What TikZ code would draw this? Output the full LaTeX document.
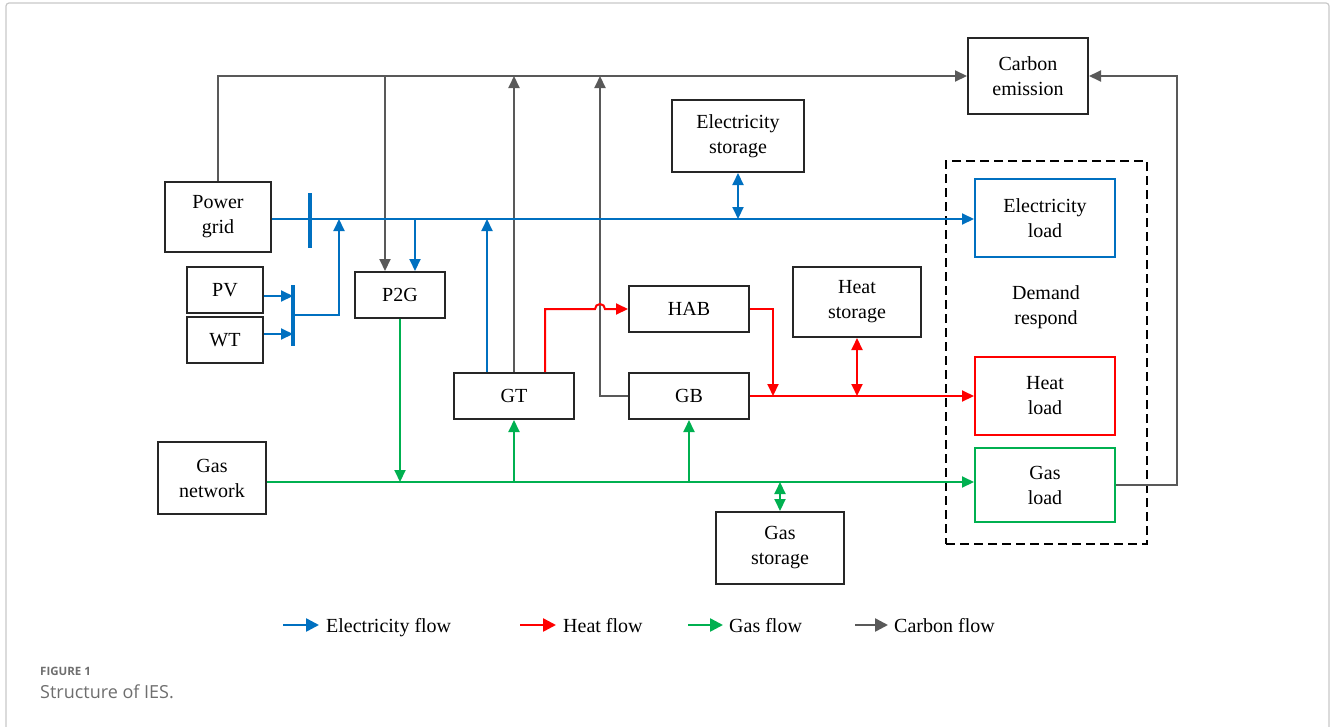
\documentclass[tikz,border=0pt]{standalone}
\usepackage{fontspec}
\setmainfont{Liberation Serif}
\newfontfamily\capfont{Open Sans}
\usetikzlibrary{arrows.meta}
\definecolor{eblue}{RGB}{0,112,192}
\definecolor{hred}{RGB}{255,0,0}
\definecolor{ggreen}{RGB}{0,176,80}
\definecolor{cgray}{RGB}{89,89,89}
\definecolor{boxline}{RGB}{38,38,38}
\definecolor{framegray}{RGB}{200,200,200}
\definecolor{capgray}{RGB}{110,110,110}
\tikzset{
  blk/.style={draw=boxline, line width=2pt, align=center, inner sep=0pt, text=black,
    font=\fontsize{20}{25}\selectfont},
  lbl/.style={align=center, inner sep=0pt, text=black, font=\fontsize{20}{25}\selectfont},
  tip/.tip={Triangle[length=12pt,width=11pt]},
  legtip/.tip={Triangle[length=13pt,width=13pt]},
  flowline/.style={line width=2pt},
  eflow/.style={flowline, draw=eblue, -tip},
  hflow/.style={flowline, draw=hred, -tip},
  gflow/.style={flowline, draw=ggreen, -tip},
  cflow/.style={flowline, draw=cgray, -tip},
  eboth/.style={flowline, draw=eblue, tip-tip},
  hboth/.style={flowline, draw=hred, tip-tip},
  gboth/.style={flowline, draw=ggreen, tip-tip},
  legarrow/.style={line width=2.5pt, -legtip},
  busbar/.style={draw=eblue, line width=4pt},
  legtext/.style={anchor=base west, inner sep=0pt, text=black, font=\fontsize{20}{24}\selectfont},
}
\begin{document}
\begin{tikzpicture}[x=1pt,y=-1pt]
\useasboundingbox (0,0) rectangle (1335,726);
% outer frame
\draw[framegray, line width=1.2pt, rounded corners=3pt] (6,740) -- (6,3) -- (1329,3) -- (1329,740);

% boxes
\node[blk, minimum width=120pt, minimum height=76pt] (carbon) at (1028,76) {Carbon\\emission};
\node[blk, minimum width=132pt, minimum height=72pt] (estor) at (738,136) {Electricity\\storage};
\node[blk, minimum width=106pt, minimum height=70pt] (grid) at (218,217) {Power\\grid};
\node[blk, minimum width=76pt, minimum height=46pt] (pv) at (225,290) {PV};
\node[blk, minimum width=76pt, minimum height=46pt] (wt) at (225,340) {WT};
\node[blk, minimum width=90pt, minimum height=46pt] (p2g) at (400,295) {P2G};
\node[blk, minimum width=120pt, minimum height=46pt] (hab) at (689,309) {HAB};
\node[blk, minimum width=128pt, minimum height=70pt] (hstor) at (857,302) {Heat\\storage};
\node[blk, minimum width=120pt, minimum height=46pt] (gt) at (514,396) {GT};
\node[blk, minimum width=120pt, minimum height=46pt] (gb) at (689,396) {GB};
\node[blk, minimum width=108pt, minimum height=72pt] (gasnet) at (212,478) {Gas\\network};
\node[blk, minimum width=128pt, minimum height=72pt] (gstor) at (780,548) {Gas\\storage};
\node[draw=black, line width=1.5pt, dash pattern=on 9pt off 5pt, minimum width=201pt, minimum height=383pt, inner sep=0pt] (dr) at (1046.5,352.5) {};
\node[blk, draw=eblue, minimum width=140pt, minimum height=78pt] (eload) at (1045,218) {Electricity\\load};
\node[lbl] (drt) at (1046,307) {Demand\\respond};
\node[blk, draw=hred, minimum width=140pt, minimum height=78pt] (hload) at (1045,396) {Heat\\load};
\node[blk, draw=ggreen, minimum width=140pt, minimum height=74pt] (gasload) at (1045,485) {Gas\\load};

% helper coordinates
\coordinate (ebus) at (0,219);
\coordinate (gl) at (0,482);
\coordinate (c1) at (385,76);
\coordinate (gbc) at (600,76);
\coordinate (rc) at (1177,76);
\coordinate (bar1t) at (310,193);
\coordinate (bar1b) at (310,248);
\coordinate (bar2t) at (293,285);
\coordinate (bar2b) at (293,346);
\coordinate (pvin) at (293,296);
\coordinate (wtin) at (293,334);
\coordinate (pvbus) at (293,315);
\coordinate (jn1) at (339,219);
\coordinate (jn2) at (415,219);
\coordinate (jn3) at (487,219);
\coordinate (gtr) at (545,309);
\coordinate (hop) at (600,309);
\coordinate (hr) at (773,309);

% carbon flows
\draw[cflow] (grid.north) |- (carbon.west);
\draw[cflow] (c1) -- (c1 |- p2g.north);
\draw[cflow] (gt.north) -- (gt.north |- carbon.west);
\draw[cflow] (gb.west) -| (gbc);
\draw[cflow] (gasload.east) -| (rc) -- (carbon.east);

% electricity flows
\draw[eflow] (grid.east |- ebus) -- (eload.west |- ebus);
\draw[busbar] (bar1t) -- (bar1b);
\draw[busbar] (bar2t) -- (bar2b);
\draw[eflow] (pv.east |- pvin) -- (pvin);
\draw[eflow] (wt.east |- wtin) -- (wtin);
\draw[eflow] (pvbus) -| (jn1);
\draw[eflow] (jn2) -- (jn2 |- p2g.north);
\draw[eflow] (jn3 |- gt.north) -- (jn3);
\draw[eboth] (estor.south) -- (estor.south |- ebus);

% heat flows
\draw[hflow] (gtr |- gt.north) -- (gtr) -- ([xshift=-5pt]hop) arc[start angle=180, end angle=0, radius=5pt] -- (hab.west);
\draw[hflow] (hab.east) -| (hr |- gb.east);
\draw[hflow] (gb.east) -- (hload.west);
\draw[hboth] (hstor.south) -- (hstor.south |- gb.east);

% gas flows
\draw[gflow] (gasnet.east |- gl) -- (gasload.west |- gl);
\draw[gflow] (p2g.south) -- (p2g.south |- gl);
\draw[gflow] (gt.south |- gl) -- (gt.south);
\draw[gflow] (gb.south |- gl) -- (gb.south);
\draw[gboth] (gstor.north) -- (gstor.north |- gl);

% legend
\coordinate (l1a) at (283,625); \coordinate (l1b) at (319,625);
\coordinate (l2a) at (520,625); \coordinate (l2b) at (556,625);
\coordinate (l3a) at (688,625); \coordinate (l3b) at (723,625);
\coordinate (l4a) at (855,625); \coordinate (l4b) at (888,625);
\draw[legarrow, draw=eblue] (l1a) -- (l1b);
\draw[legarrow, draw=hred] (l2a) -- (l2b);
\draw[legarrow, draw=ggreen] (l3a) -- (l3b);
\draw[legarrow, draw=cgray] (l4a) -- (l4b);
\node[legtext] (t1) at (326,632) {Electricity flow};
\node[legtext] (t2) at (563,632) {Heat flow};
\node[legtext] (t3) at (729,632) {Gas flow};
\node[legtext] (t4) at (894,632) {Carbon flow};

% caption
\node[anchor=west, inner sep=0pt, text=capgray, font=\capfont\bfseries\fontsize{11.5}{13}\selectfont] (fig) at (40,671) {FIGURE 1};
\node[anchor=west, inner sep=0pt, text=capgray, font=\capfont\fontsize{18}{21}\selectfont] (cap) at (40,692) {Structure of IES.};
\end{tikzpicture}
\end{document}
